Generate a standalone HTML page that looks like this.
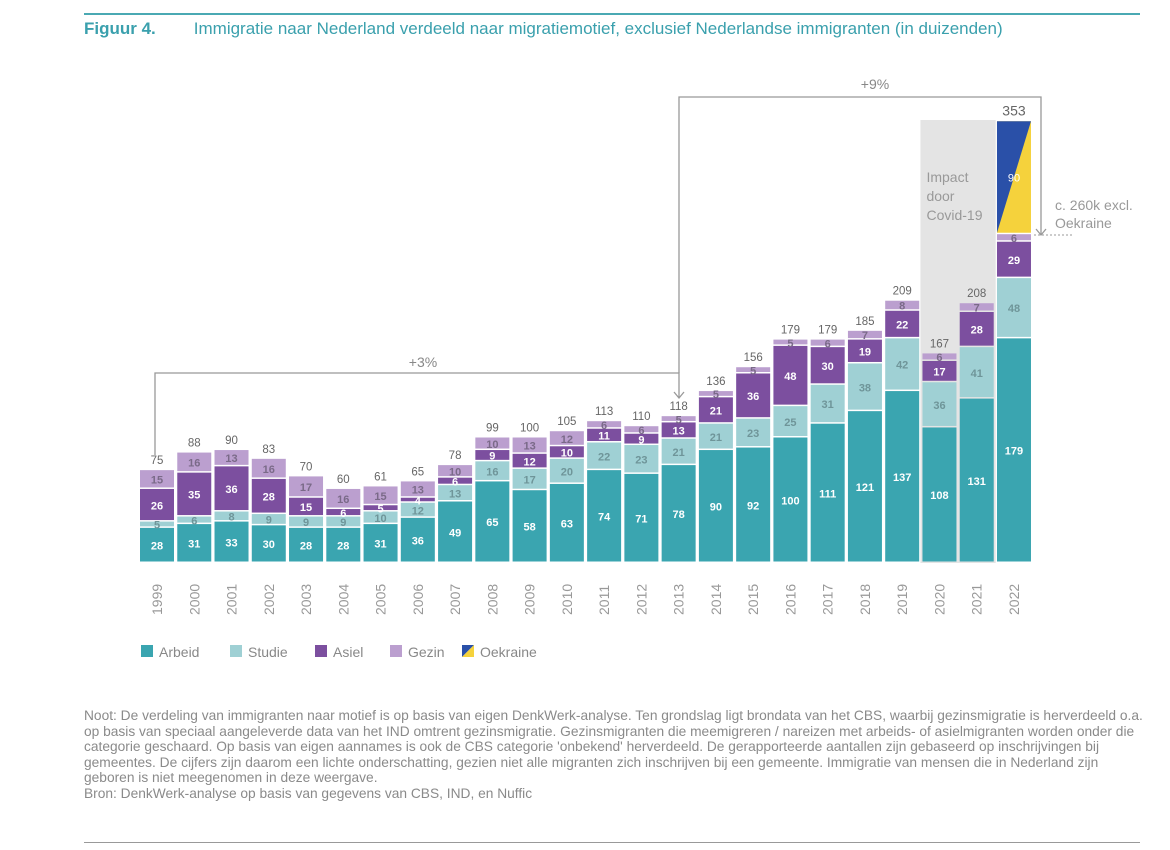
<!DOCTYPE html>
<html><head><meta charset="utf-8">
<style>
body{margin:0;width:1170px;height:850px;background:#fff;font-family:"Liberation Sans",sans-serif;overflow:hidden;position:relative}
.title{position:absolute;left:84px;top:19px;font-size:17px;color:#3aa0ad}
.title b{font-weight:bold;margin-right:38px}
.note{position:absolute;left:84px;top:708px;width:1062px;font-size:13.75px;line-height:15.6px;color:#8a8a8a}
.hl{position:absolute;left:84px;height:2px;background:#4aa9b3}
</style></head><body>
<div class="hl" style="top:13px;width:1056px"></div>
<div class="title"><b>Figuur 4.</b>Immigratie naar Nederland verdeeld naar migratiemotief, exclusief Nederlandse immigranten (in duizenden)</div>
<svg id="chart" width="1170" height="700" style="position:absolute;left:0;top:0"></svg>
<div class="note">Noot: De verdeling van immigranten naar motief is op basis van eigen DenkWerk-analyse. Ten grondslag ligt brondata van het CBS, waarbij gezinsmigratie is herverdeeld o.a. op basis van speciaal aangeleverde data van het IND omtrent gezinsmigratie. Gezinsmigranten die meemigreren / nareizen met arbeids- of asielmigranten worden onder die categorie geschaard. Op basis van eigen aannames is ook de CBS categorie 'onbekend' herverdeeld. De gerapporteerde aantallen zijn gebaseerd op inschrijvingen bij gemeentes. De cijfers zijn daarom een lichte onderschatting, gezien niet alle migranten zich inschrijven bij een gemeente. Immigratie van mensen die in Nederland zijn geboren is niet meegenomen in deze weergave.<br>Bron: DenkWerk-analyse op basis van gegevens van CBS, IND, en Nuffic</div>
<div class="hl" style="top:842px;width:1056px;background:#999;height:1px"></div>
<script>
const years=["1999","2000","2001","2002","2003","2004","2005","2006","2007","2008","2009","2010","2011","2012","2013","2014","2015","2016","2017","2018","2019","2020","2021","2022"];
const arbeid=[28,31,33,30,28,28,31,36,49,65,58,63,74,71,78,90,92,100,111,121,137,108,131,179];
const studie=[5,6,8,9,9,9,10,12,13,16,17,20,22,23,21,21,23,25,31,38,42,36,41,48];
const asiel=[26,35,36,28,15,6,5,4,6,9,12,10,11,9,13,21,36,48,30,19,22,17,28,29];
const gezin=[15,16,13,16,17,16,15,13,10,10,13,12,6,6,5,5,5,5,6,7,8,6,7,6];
const oekraine=[0,0,0,0,0,0,0,0,0,0,0,0,0,0,0,0,0,0,0,0,0,0,0,90];
const totals=[75,88,90,83,70,60,61,65,78,99,100,105,113,110,118,136,156,179,179,185,209,167,208,353];
const NS="http://www.w3.org/2000/svg",svg=document.getElementById('chart');
const base=563,k=443/353,x0=140,pitch=37.26,bw=34;
const xS=i=>x0+i*pitch, yS=v=>base-v*k;
function el(t,a,p){const e=document.createElementNS(NS,t);for(const n in a)e.setAttribute(n,a[n]);(p||svg).appendChild(e);return e;}
let cb=el('rect',{x:xS(21)-2,y:120,width:pitch+bw+4,height:base-120,fill:'#e4e4e4'});

let ct=el('text',{x:xS(21)+4,y:182,'font-size':14,fill:'#999'});

["Impact","door","Covid-19"].forEach((s,j)=>{const t=el('tspan',{x:xS(21)+4,dy:j?19:0},ct);t.textContent=s;});
const series=[[arbeid,'#3aa5b0','#fff','arbeid'],[studie,'#9fd0d4','#6f9599','studie'],[asiel,'#7c4f9f','#fff','asiel'],[gezin,'#bb9fcf','#7a6a88','gezin']];
years.forEach((y,i)=>{
  let cum=0;const x=xS(i);
  series.forEach(([arr,col,tc,nm])=>{
    const v=arr[i];const r=el('rect',{x:x,y:yS(cum+v),width:bw,height:v*k-1.5,fill:col});
    
    const t=el('text',{x:x+bw/2,y:yS(cum+v/2)+4,'font-size':11,fill:tc,'text-anchor':'middle','font-weight':'bold'});t.textContent=v;
    
    cum+=v;
  });
  if(oekraine[i]>0){const v=oekraine[i],yt=yS(cum+v),yb=yS(cum)-1.5;
    const g=el('polygon',{points:`${x},${yt} ${x+bw},${yt} ${x+bw},${yb} ${x},${yb}`,fill:'#f5d23c'});
    
    const b=el('polygon',{points:`${x},${yt} ${x+bw},${yt} ${x},${yb}`,fill:'#2a50a8'});
    
    const t=el('text',{x:x+bw/2,y:yS(cum+v/2)+4,'font-size':11,fill:'#fff','text-anchor':'middle'});t.textContent=v;
    
    cum+=v;}
  const tt=el('text',{x:x+bw/2,y:yS(cum)-6,'font-size':(i==23?14:11.5),fill:'#666','text-anchor':'middle'});tt.textContent=totals[i];
  
  const yl=el('text',{transform:`translate(${x+bw/2+5},${615}) rotate(-90)`,'font-size':14,fill:'#999'});yl.textContent=y;
  
});
function line(pts,name){const p=el('polyline',{points:pts,fill:'none',stroke:'#999','stroke-width':1.3});}
line(`155,455 155,373 679,373 679,398`,'bracket-3pct');line(`674,392 679,398 684,392`,'arrow-3pct');
line(`679,373 679,97 1041,97 1041,235`,'bracket-9pct');line(`1036,229 1041,235 1046,229`,'arrow-9pct');
const dl=el('line',{x1:1034,y1:235,x2:1072,y2:235,stroke:'#999','stroke-dasharray':'2,2'});
[[423,367,'+3%','label-3pct'],[875,89,'+9%','label-9pct']].forEach(([x,y,s,n])=>{const t=el('text',{x:x,y:y,'font-size':14,fill:'#888','text-anchor':'middle'});t.textContent=s;});
const ex=el('text',{x:1055,y:210,'font-size':14,fill:'#999'});
[["c. 260k excl.",0],["Oekraine",18]].forEach(([s,d])=>{const t=el('tspan',{x:1055,dy:d},ex);t.textContent=s;});
const leg=[['Arbeid','#3aa5b0',141],['Studie','#9fd0d4',230],['Asiel','#7c4f9f',315],['Gezin','#bb9fcf',390],['Oekraine',null,462]];
leg.forEach(([n,c,x])=>{
  if(c){const r=el('rect',{x:x,y:645,width:12,height:12,fill:c});}
  else{const a=el('polygon',{points:`${x},645 ${x+12},645 ${x},657`,fill:'#2a50a8'});
    const b=el('polygon',{points:`${x+12},645 ${x+12},657 ${x},657`,fill:'#f5d23c'});}
  const t=el('text',{x:x+18,y:657,'font-size':14,fill:'#888'});t.textContent=n;
});
</script>
</body></html>
